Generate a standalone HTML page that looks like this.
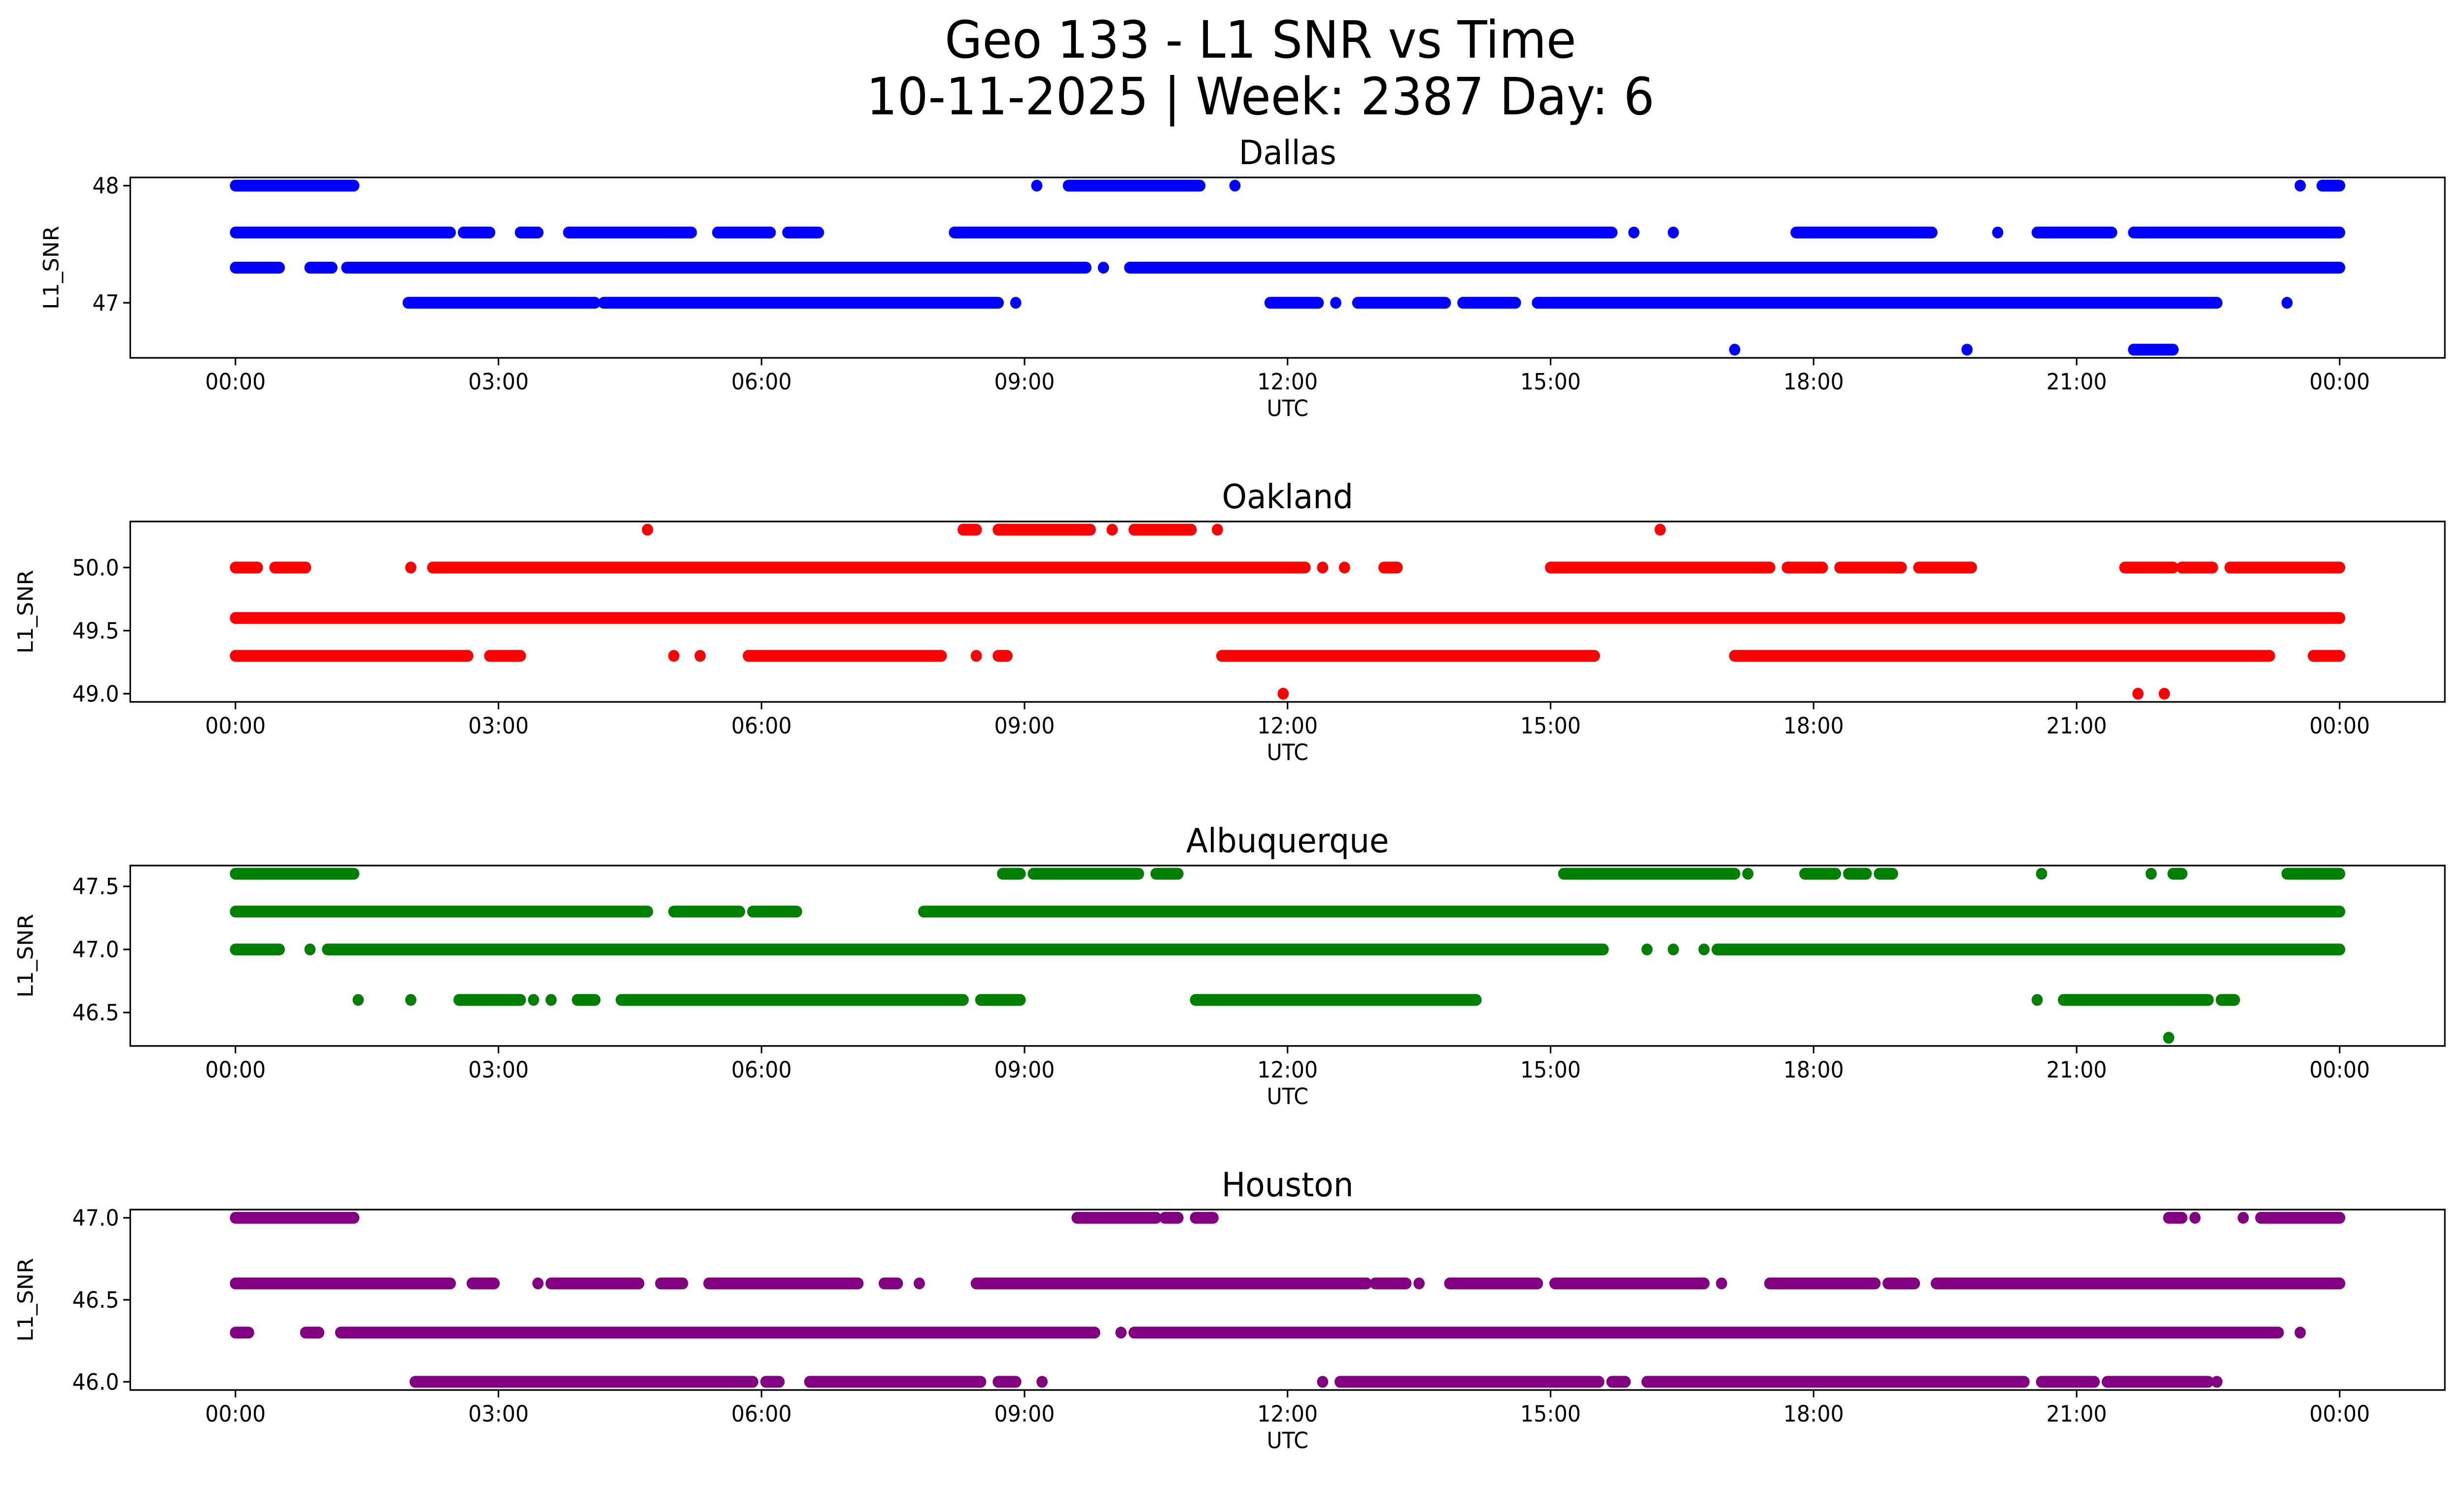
<!DOCTYPE html>
<html><head><meta charset="utf-8">
<style>
html,body{margin:0;padding:0;background:#fff;width:100%;height:100%;overflow:hidden;}
svg{display:block;width:100vw;height:100vh;font-family:"DejaVu Sans","Liberation Sans",sans-serif;}
</style></head>
<body>
<svg id="chart" viewBox="0 0 5278 3033" preserveAspectRatio="none" xmlns="http://www.w3.org/2000/svg">
<rect width="5278" height="3033" fill="#fff"/>
<text x="2700" y="117" font-size="104" text-anchor="middle">Geo 133 - L1 SNR vs Time</text>
<text x="2700" y="232" font-size="104" text-anchor="middle">10-11-2025 | Week: 2387 Day: 6</text>
</svg>
<script>
// x tick labels (hours)
const xTickHours = [0,3,6,9,12,15,18,21,24];
const xTickLabels = ["00:00","03:00","06:00","09:00","12:00","15:00","18:00","21:00","00:00"];
const stations = ["Dallas","Oakland","Albuquerque","Houston"];
const colors = ["#0000ff","#ff0000","#008000","#800080"];
const yDomains = [[46.53,48.07],[48.935,50.365],[46.235,47.665],[45.95,47.05]];
const yTicks = [[47,48],[49.0,49.5,50.0],[46.5,47.0,47.5],[46.0,46.5,47.0]];
const yTickLabels = [["47","48"],["49.0","49.5","50.0"],["46.5","47.0","47.5"],["46.0","46.5","47.0"]];
// segments: [snr, startHour, endHour]
const dallasSegs = [
[48.0,0,1.35],[48.0,9.14,9.14],[48.0,9.5,11.0],[48.0,11.4,11.4],[48.0,23.55,23.55],[48.0,23.8,24],
[47.6,0,2.45],[47.6,2.6,2.9],[47.6,3.25,3.45],[47.6,3.8,5.2],[47.6,5.5,6.1],[47.6,6.3,6.65],[47.6,8.2,15.7],[47.6,15.95,15.95],[47.6,16.4,16.4],[47.6,17.8,19.35],[47.6,20.1,20.1],[47.6,20.55,21.4],[47.6,21.65,24],
[47.3,0,0.5],[47.3,0.85,1.1],[47.3,1.27,9.7],[47.3,9.9,9.9],[47.3,10.2,24],
[47.0,1.97,4.1],[47.0,4.2,8.7],[47.0,8.9,8.9],[47.0,11.8,12.35],[47.0,12.55,12.55],[47.0,12.8,13.8],[47.0,14.0,14.6],[47.0,14.85,22.6],[47.0,23.4,23.4],
[46.6,17.1,17.1],[46.6,19.75,19.75],[46.6,21.65,22.1]];
const oaklandSegs = [
[50.3,4.7,4.7],[50.3,8.3,8.45],[50.3,8.7,9.75],[50.3,10.0,10.0],[50.3,10.25,10.9],[50.3,11.2,11.2],[50.3,16.25,16.25],
[50.0,0,0.25],[50.0,0.45,0.8],[50.0,2.0,2.0],[50.0,2.25,12.2],[50.0,12.4,12.4],[50.0,12.65,12.65],[50.0,13.1,13.25],[50.0,15.0,17.5],[50.0,17.7,18.1],[50.0,18.3,19.0],[50.0,19.2,19.8],[50.0,21.55,22.1],[50.0,22.2,22.55],[50.0,22.75,24],
[49.6,0,24],
[49.3,0,2.65],[49.3,2.9,3.25],[49.3,5.0,5.0],[49.3,5.3,5.3],[49.3,5.85,8.05],[49.3,8.45,8.45],[49.3,8.7,8.8],[49.3,11.25,15.5],[49.3,17.1,23.2],[49.3,23.7,24],
[49.0,11.95,11.95],[49.0,21.7,21.7],[49.0,22.0,22.0]];
const albuquerqueSegs = [
[47.6,0,1.35],[47.6,8.75,8.95],[47.6,9.1,10.3],[47.6,10.5,10.75],[47.6,15.15,17.1],[47.6,17.25,17.25],[47.6,17.9,18.25],[47.6,18.4,18.6],[47.6,18.75,18.9],[47.6,20.6,20.6],[47.6,21.85,21.85],[47.6,22.1,22.2],[47.6,23.4,24],
[47.3,0,4.7],[47.3,5.0,5.75],[47.3,5.9,6.4],[47.3,7.85,24],
[47.0,0,0.5],[47.0,0.85,0.85],[47.0,1.05,15.6],[47.0,16.1,16.1],[47.0,16.4,16.4],[47.0,16.75,16.75],[47.0,16.9,24],
[46.6,1.4,1.4],[46.6,2.0,2.0],[46.6,2.55,3.25],[46.6,3.4,3.4],[46.6,3.6,3.6],[46.6,3.9,4.1],[46.6,4.4,8.3],[46.6,8.5,8.95],[46.6,10.95,14.15],[46.6,20.55,20.55],[46.6,20.85,22.5],[46.6,22.65,22.8],
[46.3,22.05,22.05]];
const houstonSegs = [
[47.0,0,1.35],[47.0,9.6,10.5],[47.0,10.6,10.75],[47.0,10.95,11.15],[47.0,22.05,22.2],[47.0,22.35,22.35],[47.0,22.9,22.9],[47.0,23.1,24],
[46.6,0,2.45],[46.6,2.7,2.95],[46.6,3.45,3.45],[46.6,3.6,4.6],[46.6,4.85,5.1],[46.6,5.4,7.1],[46.6,7.4,7.55],[46.6,7.8,7.8],[46.6,8.45,12.9],[46.6,13.0,13.35],[46.6,13.5,13.5],[46.6,13.85,14.85],[46.6,15.05,16.75],[46.6,16.95,16.95],[46.6,17.5,18.7],[46.6,18.85,19.15],[46.6,19.4,24],
[46.3,0,0.15],[46.3,0.8,0.95],[46.3,1.2,9.8],[46.3,10.1,10.1],[46.3,10.25,23.3],[46.3,23.55,23.55],
[46.0,2.05,5.9],[46.0,6.05,6.2],[46.0,6.55,8.5],[46.0,8.7,8.9],[46.0,9.2,9.2],[46.0,12.4,12.4],[46.0,12.6,15.55],[46.0,15.7,15.85],[46.0,16.1,20.4],[46.0,20.6,21.2],[46.0,21.35,22.5],[46.0,22.6,22.6]];
const allSegs = [dallasSegs, oaklandSegs, albuquerqueSegs, houstonSegs];

const NS = "http://www.w3.org/2000/svg";
const svg = document.getElementById('chart');
const L = 279, R = 5237, H = 366;
const tops = [360, 1058, 1756, 2454];
const xMin = -1.2, xMax = 25.2;
function xScale(h){ return L + (h - xMin) / (xMax - xMin) * (R - L); }
function mk(tag, attrs){ const e = document.createElementNS(NS, tag); for (const k in attrs) e.setAttribute(k, attrs[k]); return e; }

stations.forEach((name, i) => {
  const top = tops[i], bot = top + H, dom = yDomains[i];
  const yScale = v => bot - (v - dom[0]) / (dom[1] - dom[0]) * H;
  const g = mk('g', {});
  
  
  svg.appendChild(g);
  const t = mk('text', {x: (L + R) / 2, y: top - 27, 'font-size': 68, 'text-anchor': 'middle'});
  t.textContent = name;
  
  
  g.appendChild(t);
  const sg = mk('g', {});
  
  
  g.appendChild(sg);
  allSegs[i].forEach(s => {
    const y = yScale(s[0]);
    const ln = mk('line', {x1: xScale(s[1]), x2: xScale(s[2]) + 0.01, y1: y, y2: y, stroke: colors[i], 'stroke-width': 24, 'stroke-linecap': 'round'});
    
    
    sg.appendChild(ln);
  });
  const fr = mk('rect', {x: L, y: top, width: R - L, height: H, fill: 'none', stroke: '#000', 'stroke-width': 3.3});
  
  
  g.appendChild(fr);
  xTickHours.forEach((h, k) => {
    const x = xScale(h);
    const tk = mk('line', {x1: x, x2: x, y1: bot, y2: bot + 15, stroke: '#000', 'stroke-width': 3.3});
    
    
    g.appendChild(tk);
    const tl = mk('text', {x: x, y: bot + 64, 'font-size': 45, 'text-anchor': 'middle'});
    tl.textContent = xTickLabels[k];
    
    
    g.appendChild(tl);
  });
  yTicks[i].forEach((v, k) => {
    const y = yScale(v);
    const tk = mk('line', {x1: L - 15, x2: L, y1: y, y2: y, stroke: '#000', 'stroke-width': 3.3});
    
    
    g.appendChild(tk);
    const tl = mk('text', {x: L - 24, y: y + 16, 'font-size': 45, 'text-anchor': 'end'});
    tl.textContent = yTickLabels[i][k];
    
    
    g.appendChild(tl);
  });
  const xl = mk('text', {x: (L + R) / 2, y: bot + 118, 'font-size': 45, 'text-anchor': 'middle'});
  xl.textContent = 'UTC';
  
  
  g.appendChild(xl);
  const yx = i === 0 ? 125 : 70, yc = top + H / 2;
  const yl = mk('text', {x: yx, y: yc, 'font-size': 45, 'text-anchor': 'middle', transform: 'rotate(-90 ' + yx + ' ' + yc + ')'});
  yl.textContent = 'L1_SNR';
  
  
  g.appendChild(yl);
});
</script>
</body></html>
